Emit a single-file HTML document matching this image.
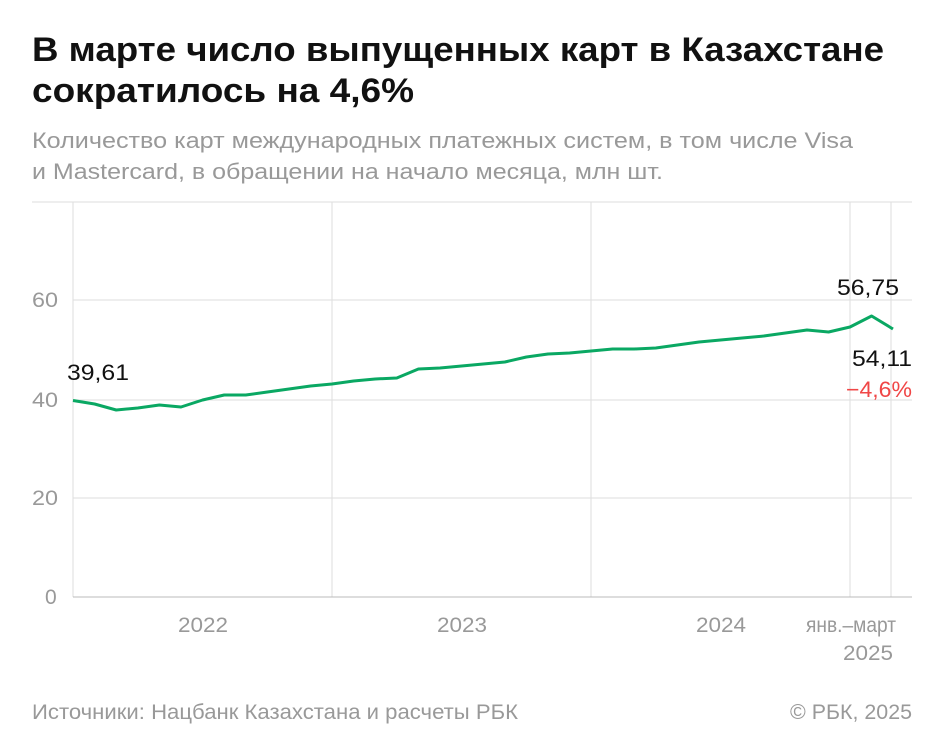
<!DOCTYPE html>
<html><head><meta charset="utf-8"><style>
body{margin:0;background:#fff;width:945px;height:749px;overflow:hidden;font-family:"Liberation Sans",sans-serif}
</style></head><body>
<svg width="945" height="749" xmlns="http://www.w3.org/2000/svg" font-family="Liberation Sans, sans-serif">
<text x="32" y="61" font-size="34" font-weight="bold" fill="#111" textLength="852" lengthAdjust="spacingAndGlyphs">В марте число выпущенных карт в Казахстане</text>
<text x="32" y="102" font-size="34" font-weight="bold" fill="#111" textLength="382" lengthAdjust="spacingAndGlyphs">сократилось на 4,6%</text>
<text x="32" y="148" font-size="22" fill="#999" textLength="821" lengthAdjust="spacingAndGlyphs">Количество карт международных платежных систем, в том числе Visa</text>
<text x="32" y="179" font-size="22" fill="#999" textLength="631" lengthAdjust="spacingAndGlyphs">и Mastercard, в обращении на начало месяца, млн шт.</text>
<g stroke="#ddd" stroke-width="1">
<line x1="32" y1="202" x2="912" y2="202"/>
<line x1="73" y1="300" x2="912" y2="300"/>
<line x1="73" y1="400" x2="912" y2="400"/>
<line x1="73" y1="498" x2="912" y2="498"/>
<line x1="73" y1="202" x2="73" y2="597"/>
<line x1="332" y1="202" x2="332" y2="597"/>
<line x1="591" y1="202" x2="591" y2="597"/>
<line x1="850" y1="202" x2="850" y2="597"/>
<line x1="891" y1="202" x2="891" y2="597"/>
</g>
<line x1="73" y1="597" x2="912" y2="597" stroke="#bbb"/>
<g font-size="21" fill="#999">
<text x="32" y="307" textLength="26" lengthAdjust="spacingAndGlyphs">60</text><text x="32" y="407" textLength="26" lengthAdjust="spacingAndGlyphs">40</text><text x="32" y="505" textLength="26" lengthAdjust="spacingAndGlyphs">20</text><text x="45" y="604">0</text>
<text x="178" y="632" textLength="50" lengthAdjust="spacingAndGlyphs">2022</text>
<text x="437" y="632" textLength="50" lengthAdjust="spacingAndGlyphs">2023</text>
<text x="696" y="632" textLength="50" lengthAdjust="spacingAndGlyphs">2024</text>
<text x="806" y="632" textLength="90" lengthAdjust="spacingAndGlyphs">янв.–март</text>
<text x="843" y="660" textLength="50" lengthAdjust="spacingAndGlyphs">2025</text>
<text x="32" y="719" textLength="486" lengthAdjust="spacingAndGlyphs">Источники: Нацбанк Казахстана и расчеты РБК</text>
<text x="790" y="719" textLength="122" lengthAdjust="spacingAndGlyphs">© РБК, 2025</text>
</g>
<polyline fill="none" stroke="#0aa863" stroke-width="3" stroke-linejoin="round" points="73,400.5 94.6,404 116.2,410 137.8,408 159.4,405 181,407 202.6,400 224.2,395 245.8,395 267.4,392 289,389 310.6,386 332,384 353.6,381 375.2,379 396.8,378 418.4,369 440,368 461.6,366 483.2,364 504.8,362 526.4,357 548,354 569.6,353 591,351 612.6,349 634.2,349 655.8,348 677.4,345 699,342 720.6,340 742.2,338 763.8,336 785.4,333 807,330 828.6,332 850,327 871.6,316 893,329"/>
<g font-size="22" fill="#111">
<text x="67" y="380" textLength="62" lengthAdjust="spacingAndGlyphs">39,61</text>
<text x="837" y="295" textLength="62" lengthAdjust="spacingAndGlyphs">56,75</text>
<text x="852" y="366" textLength="60" lengthAdjust="spacingAndGlyphs">54,11</text>
</g>
<text x="846" y="397" font-size="22" fill="#f04646" textLength="66" lengthAdjust="spacingAndGlyphs">−4,6%</text>
</svg>
</body></html>
